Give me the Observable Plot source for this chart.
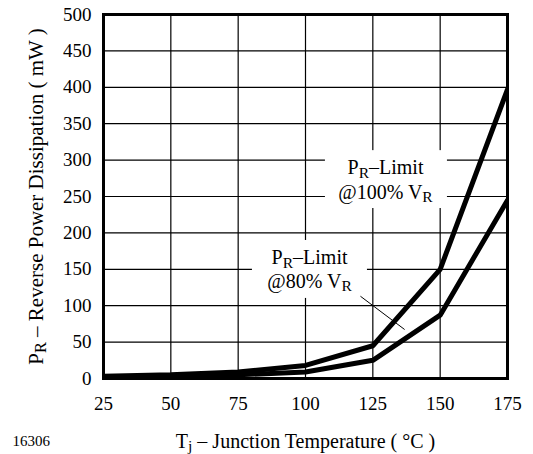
<!DOCTYPE html>
<html>
<head>
<meta charset="utf-8">
<script src="https://cdn.jsdelivr.net/npm/d3@7"></script>
<script src="https://cdn.jsdelivr.net/npm/@observablehq/plot@0.6"></script>
<style>
  html, body { margin: 0; padding: 0; background: white; }
  #chart svg { display: block; }
</style>
</head>
<body>
<div id="chart"></div>
<script>
// ---- data ----
const temps = [25, 50, 75, 100, 125, 150, 175];
const power100 = [3, 5, 9, 18, 45, 150, 397];   // PR-Limit @100% VR (mW)
const power80 = [1.5, 3, 5, 9, 25, 87, 245];    // PR-Limit @80% VR (mW)
const seriesNames = ["100%", "80%"];
const xTicks = [25, 50, 75, 100, 125, 150, 175];
const yTicks = [0, 50, 100, 150, 200, 250, 300, 350, 400, 450, 500];
const xTitle = "T_j – Junction Temperature ( °C )";
const yTitle = "P_R – Reverse Power Dissipation ( mW )";
const figureId = "16306";
// annotation labels (anchor positions in data units)
const labelTexts = ["P_R–Limit", "@100% V_R", "P_R–Limit", "@80% V_R"];
const labelX = [129.7, 129.7, 101.5, 101.5];
const labelY = [280.5, 247, 157, 125];
// white boxes behind labels (data units)
const boxX1 = [107.4, 80.3];
const boxX2 = [152.7, 123];
const boxY1 = [233.5, 110];
const boxY2 = [313, 189.6];
// leader line for the 80% label (data units)
const leaderX1 = [120.4], leaderY1 = [113], leaderX2 = [136.8], leaderY2 = [67.3];

// ---- build tables ----
const rows = [
  ...temps.map((t, i) => ({t, p: power100[i], s: seriesNames[0]})),
  ...temps.map((t, i) => ({t, p: power80[i], s: seriesNames[1]}))
];
const labels = labelTexts.map((text, i) => ({text, x: labelX[i], y: labelY[i]}));
const boxes = boxX1.map((_, i) => ({x1: boxX1[i], x2: boxX2[i], y1: boxY1[i], y2: boxY2[i]}));
const leaders = leaderX1.map((_, i) => ({x1: leaderX1[i], y1: leaderY1[i], x2: leaderX2[i], y2: leaderY2[i]}));

const plot = Plot.plot({
  width: 533,
  height: 454,
  marginLeft: 103,
  marginRight: 26,
  marginTop: 14,
  marginBottom: 76,
  style: {fontFamily: "'Liberation Serif', 'Times New Roman', serif", fontSize: "19px", color: "black", background: "white"},
  x: {domain: [25, 175]},
  y: {domain: [0, 500]},
  marks: [
    Plot.gridX(xTicks, {stroke: "black", strokeOpacity: 1, strokeWidth: 1.2}),
    Plot.gridY(yTicks, {stroke: "black", strokeOpacity: 1, strokeWidth: 1.2}),
    Plot.rect(boxes, {x1: "x1", x2: "x2", y1: "y1", y2: "y2", fill: "white"}),
    Plot.line(rows, {x: "t", y: "p", z: "s", stroke: "black", strokeWidth: 5, strokeLinejoin: "miter", clip: true}),
    Plot.frame({stroke: "black", strokeWidth: 3}),
    Plot.link(leaders, {x1: "x1", y1: "y1", x2: "x2", y2: "y2", stroke: "black", strokeWidth: 1}),
    Plot.axisX(xTicks, {tickSize: 0, tickPadding: 18, fontSize: 19, label: null}),
    Plot.axisY(yTicks, {tickSize: 0, tickPadding: 12, fontSize: 19, label: null}),
    Plot.text(labels, {x: "x", y: "y", text: "text", lineAnchor: "bottom", textAnchor: "middle", fontSize: 20, fill: "black"}),
    Plot.text([xTitle], {frameAnchor: "bottom", dy: 69, lineAnchor: "bottom", textAnchor: "middle", fontSize: 20, fill: "black"}),
    Plot.text([yTitle], {frameAnchor: "left", rotate: -90, dx: -61, lineAnchor: "bottom", textAnchor: "middle", fontSize: 21, fill: "black"}),
    Plot.text([figureId], {frameAnchor: "bottom-left", dx: -91, dy: 67, textAnchor: "start", lineAnchor: "bottom", fontSize: 15, fill: "black"})
  ]
});

document.getElementById("chart").appendChild(plot);

// turn "_X" into a subscript tspan
const NS = "http://www.w3.org/2000/svg";
plot.querySelectorAll("text, tspan").forEach(el => {
  if (el.children.length) return;
  const s = el.textContent;
  if (!s.includes("_")) return;
  const fs = parseFloat(getComputedStyle(el).fontSize) || 19;
  const shift = fs * 0.18;
  const parts = s.split(/_(\w)/);
  el.textContent = "";
  let lowered = false;
  parts.forEach((p, i) => {
    if (!p) return;
    const t = document.createElementNS(NS, "tspan");
    t.textContent = p;
    if (i % 2 === 1) {
      t.setAttribute("font-size", (fs * 0.78) + "px");
      t.setAttribute("dy", shift);
      lowered = true;
    } else if (lowered) {
      t.setAttribute("dy", -shift);
      lowered = false;
    }
    el.appendChild(t);
  });
});
</script>
</body>
</html>
